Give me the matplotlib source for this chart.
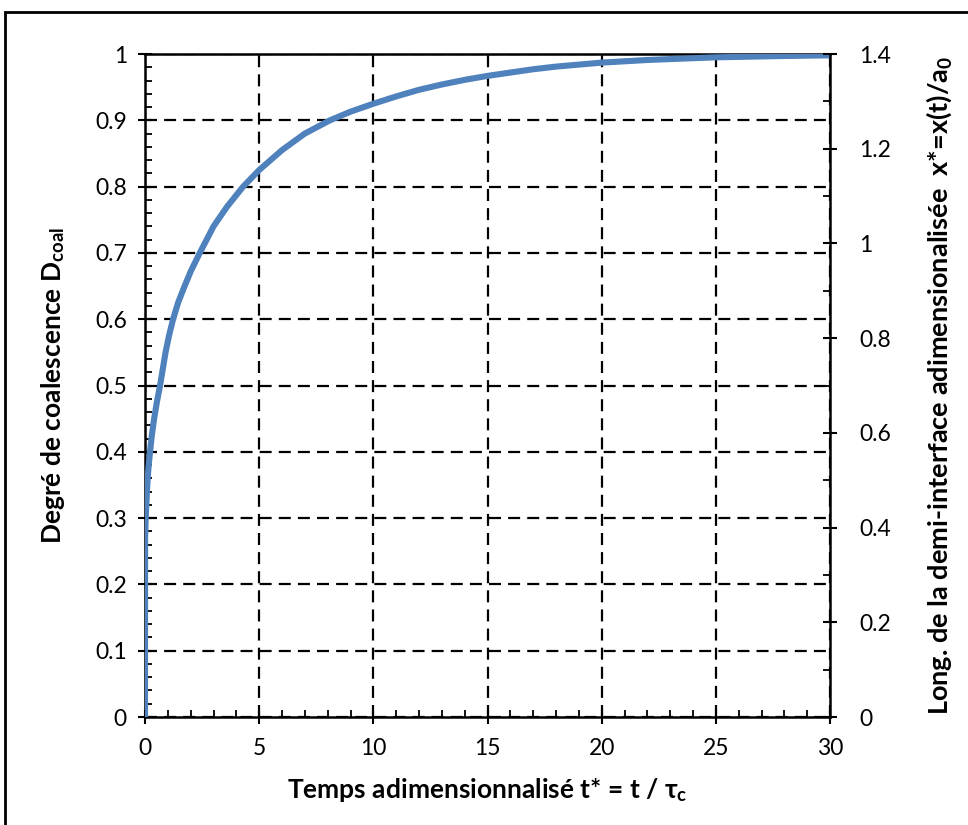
import matplotlib
matplotlib.use("Agg")
import matplotlib.pyplot as plt
from matplotlib.ticker import MultipleLocator
from matplotlib.patches import Rectangle

plt.rcParams['font.family'] = ['Lato', 'DejaVu Sans']
plt.rcParams['mathtext.fontset'] = 'custom'
plt.rcParams['mathtext.rm'] = 'Lato'
plt.rcParams['mathtext.bf'] = 'Lato:bold'
plt.rcParams['mathtext.it'] = 'Lato:italic'

# Data
t_star = [0, 0.005, 0.03, 0.1, 0.15, 0.22, 0.3, 0.4, 0.52, 0.66, 0.78, 0.9, 1.05, 1.23,
          1.45, 1.7, 2.0, 2.4, 2.7, 3.0, 3.6, 4.3, 5.0, 6.0, 7.0, 8.1, 9.0, 10.0,
          11.0, 12.0, 13.0, 14.0, 15.0, 16.0, 17.0, 18.0, 20.0, 22.0, 25.0, 28.0, 30.0]
d_coal = [0, 0.27, 0.30, 0.35, 0.375, 0.40, 0.425, 0.45, 0.475, 0.50, 0.525, 0.55, 0.575, 0.60,
          0.625, 0.647, 0.672, 0.70, 0.72, 0.74, 0.77, 0.80, 0.825, 0.855, 0.88, 0.90, 0.913, 0.925,
          0.936, 0.946, 0.954, 0.961, 0.967, 0.972, 0.977, 0.981, 0.987, 0.991, 0.995, 0.997, 0.998]

x_ticks = [0, 5, 10, 15, 20, 25, 30]
left_ticks = [0, 0.1, 0.2, 0.3, 0.4, 0.5, 0.6, 0.7, 0.8, 0.9, 1]
right_ticks = [0, 0.2, 0.4, 0.6, 0.8, 1, 1.2, 1.4]

def fmt(v):
    return '%g' % v

fig = plt.figure(figsize=(9.68, 8.25), dpi=100)
ax = fig.add_axes([145/968, 1-717/825, (830-145)/968, (717-54)/825])

ax.plot(t_star, d_coal, color='#4f81bd', lw=4.4, solid_capstyle='butt',
        solid_joinstyle='round', zorder=3)

ax.set_xlim(0, 30)
ax.set_ylim(0, 1)
ax.set_xticks(x_ticks)
ax.set_xticklabels([fmt(v) for v in x_ticks])
ax.set_yticks(left_ticks)
ax.set_yticklabels([fmt(v) for v in left_ticks])
ax.xaxis.set_minor_locator(MultipleLocator(1))
ax.yaxis.set_minor_locator(MultipleLocator(0.02))

ax.grid(True, which='major', color='black', linestyle=(0, (5.4, 3.2)), linewidth=1.6)
ax.tick_params(which='major', direction='inout', length=10, width=1.5, labelsize=16.5, colors='black')
ax.tick_params(axis='x', which='major', pad=10)
ax.tick_params(axis='y', which='major', pad=8)
ax.tick_params(which='minor', direction='in', length=5, width=1.3)
for s in ['left', 'bottom', 'top']:
    ax.spines[s].set_linewidth(1.8)
ax.spines['right'].set_visible(False)

ax.set_xlabel('Temps adimensionnalisé t* = t / τ$_\\mathbf{c}$', fontsize=19, fontweight='bold', labelpad=12)
ax.set_ylabel('Degré de coalescence D$_\\mathbf{coal}$', fontsize=19, fontweight='bold', labelpad=20)

ax2 = ax.twinx()
ax2.set_ylim(0, 1.4)
ax2.set_yticks(right_ticks)
ax2.set_yticklabels([fmt(v) for v in right_ticks])
ax2.yaxis.set_minor_locator(MultipleLocator(0.1))
ax2.tick_params(which='major', direction='inout', length=10, width=1.5, labelsize=16.5, pad=16, colors='black')
ax2.tick_params(which='minor', direction='in', length=5, width=1.3)
for s in ['left', 'bottom', 'top']:
    ax2.spines[s].set_visible(False)
ax2.spines['right'].set_linewidth(1.8)
ax2.set_ylabel('Long. de la demi-interface adimensionalisée  x*=x(t)/a$_\\mathbf{0}$',
               fontsize=19.5, fontweight='bold', labelpad=24)

fig.patches.append(Rectangle((5/968, -0.02), 1.05, 1.02 - 12/825, transform=fig.transFigure,
                             fill=False, edgecolor='black', linewidth=2))

fig.savefig('out.png', dpi=100)
